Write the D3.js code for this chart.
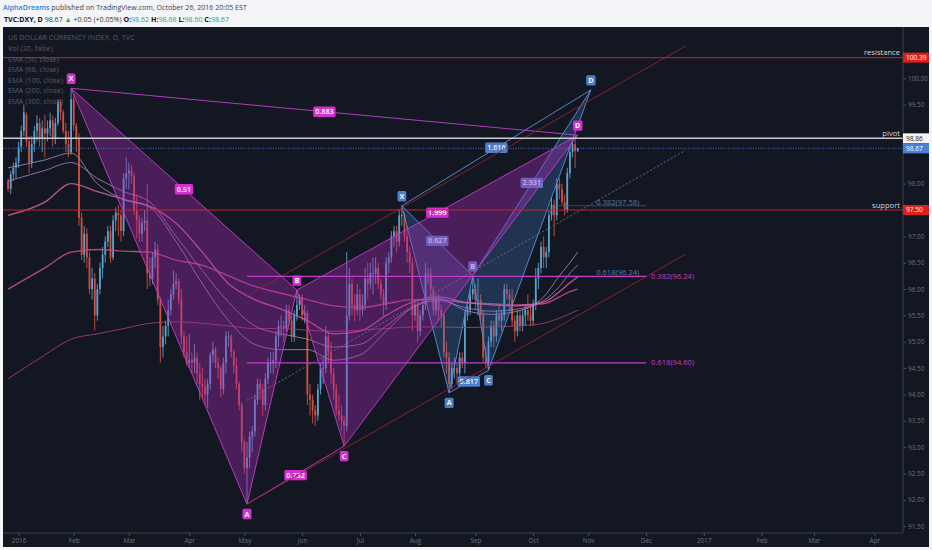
<!DOCTYPE html>
<html><head><meta charset="utf-8">
<script src="https://cdn.jsdelivr.net/npm/d3@7/dist/d3.min.js"></script>
<style>
html,body{margin:0;padding:0;background:#f3f5f8;overflow:hidden;}
svg{display:block;font-family:"Open Sans",sans-serif;}
</style></head><body>
<svg id="c" width="932" height="550"></svg>
<script>
// ---------------- DATA ----------------
const startDate = "2015-12-28";   // first bar, then one bar per weekday
const opens = [
98.05,97.90,98.18,98.30,98.40, 98.70,99.00,99.30,98.80,98.40, 98.75,99.00,99.15,98.85,99.05, 98.95,99.05,99.20,98.85,99.15,
99.55,99.35,99.00,98.75,98.60, 99.60,99.10,98.85,97.35,96.65, 97.05,96.60,96.00,96.20,95.50, 96.00,96.40,96.65,96.90,97.10,
96.60,97.30,97.45,97.40,97.10, 98.10,98.20,98.25,98.15,97.50, 97.30,97.05,97.25,97.30,96.30, 96.20,96.60,96.75,95.80,94.90,
95.10,95.30,95.60,95.90,96.10, 96.15,95.80,95.10,94.80,94.60, 94.65,94.60,94.70,94.40,94.20, 94.15,94.00,94.20,94.75,94.85,
94.60,94.50,94.10,94.60,95.10, 95.10,94.80,94.55,94.20,93.80, 93.10,92.60,92.80,93.20,93.30, 93.90,94.20,94.10,93.80,94.30,
94.60,94.60,94.65,95.10,95.30, 95.30,95.25,95.60,95.40,95.10, 95.50,95.70,95.85,95.50,95.55, 94.00,93.90,93.70,93.60,94.10,
94.50,94.50,95.10,94.80,94.40, 94.10,93.70,93.60,93.50,93.40, 95.50,96.10,95.70,95.60,95.90, 95.60,95.70,96.20,96.10,96.30,
96.30,96.40,96.10,95.90,95.70, 96.50,96.60,97.00,97.10,96.90, 97.40,97.40,97.00,96.70,96.50, 95.50,95.70,95.20,95.50,95.70,
96.30,96.30,96.00,95.60,95.80, 95.60,95.50,94.80,94.70,94.20, 94.50,94.50,94.40,94.70,94.60, 95.50,95.60,95.90,96.00,95.80,
95.80,95.50,94.70,94.60,95.00, 95.30,95.10,95.50,95.40,95.50, 96.00,95.90,95.80,95.40,95.20, 95.50,95.30,95.50,95.60,95.50,
95.40,95.70,96.20,96.40,96.80, 96.60,96.70,97.40,97.60,97.40, 98.00,97.90,97.65,97.50,98.20, 98.60,98.75,98.62];
const highs = [
98.10,98.25,98.40,98.50,98.80, 99.10,99.50,99.35,98.90,98.90, 99.10,99.30,99.25,99.20,99.30, 99.20,99.35,99.30,99.25,99.60,
99.60,99.40,99.15,99.00,99.81, 99.70,99.15,98.95,97.45,97.20, 97.15,96.70,96.40,96.30,96.10, 96.50,96.80,97.00,97.20,97.20,
97.40,97.55,97.60,97.50,98.20, 98.50,98.40,98.35,98.20,97.80, 97.40,97.35,97.50,98.00,96.60, 96.70,96.90,96.85,95.85,95.30,
95.40,95.80,96.00,96.35,96.30, 96.20,96.00,95.20,95.10,95.15, 94.80,94.95,94.80,94.60,94.50, 94.30,94.30,94.80,95.00,94.90,
94.70,94.55,94.70,95.20,95.20, 95.15,94.85,94.70,94.25,93.85, 93.15,93.10,93.30,93.40,94.00, 94.30,94.30,94.20,94.40,94.70,
94.80,94.80,95.20,95.40,95.50, 95.40,95.70,95.70,95.50,95.60, 95.98,95.90,95.90,95.70,95.60, 94.20,94.00,93.80,94.20,94.60,
94.70,95.30,95.20,95.00,94.50, 94.20,94.00,93.80,93.60,96.70, 96.40,96.20,95.90,96.10,96.00, 95.90,96.40,96.50,96.50,96.60,
96.60,96.50,96.20,96.00,96.60, 96.70,97.10,97.20,97.20,97.50, 97.58,97.45,97.20,96.80,96.60, 95.80,95.75,95.60,95.80,96.50,
96.40,96.40,96.05,95.90,95.90, 95.70,95.55,95.00,94.80,94.60, 94.70,94.60,94.80,94.80,95.60, 95.70,96.00,96.25,96.10,96.20,
95.90,95.60,94.90,95.10,95.40, 95.40,95.60,95.70,95.60,96.10, 96.10,96.00,96.00,95.50,95.60, 95.60,95.60,95.70,95.90,95.70,
95.80,96.40,96.50,96.90,97.00, 96.80,97.50,97.75,97.70,98.10, 98.10,98.00,97.80,98.30,98.70, 98.85,98.92,98.68];
const lows = [
97.84,97.80,98.05,98.10,98.30, 98.60,98.90,98.70,98.20,98.30, 98.60,98.80,98.70,98.60,98.50, 98.80,98.90,98.70,98.75,99.10,
99.20,98.95,98.60,98.50,98.55, 99.00,98.60,97.20,96.55,96.50, 96.40,95.90,95.80,95.22,95.40, 95.90,96.20,96.50,96.80,96.50,
96.55,97.10,97.00,96.90,97.00, 97.90,97.90,98.00,97.40,96.95, 96.90,96.90,97.10,96.00,96.05, 96.10,96.40,95.70,94.60,94.70,
94.95,95.10,95.50,95.80,96.00, 95.70,94.95,94.70,94.55,94.50, 94.40,94.40,94.20,93.90,93.95, 93.80,93.75,94.10,94.60,94.50,
94.30,93.95,94.00,94.40,94.90, 94.70,94.40,94.10,93.70,92.90, 92.50,91.92,92.60,92.90,93.20, 93.80,93.90,93.60,93.70,94.20,
94.40,94.40,94.50,94.90,95.10, 95.00,95.20,95.30,95.00,95.00, 95.40,95.60,95.40,95.35,93.80, 93.60,93.45,93.40,93.50,94.00,
94.20,94.40,94.60,94.20,93.90, 93.60,93.50,93.30,93.02,93.30, 95.40,95.50,95.40,95.50,95.40, 95.50,95.60,95.80,96.00,95.90,
96.10,96.00,95.80,95.50,95.60, 96.30,96.50,96.80,96.70,96.80, 97.20,96.90,96.50,96.30,95.20, 95.40,95.00,95.10,95.40,95.60,
96.10,95.80,95.50,95.50,95.40, 95.30,94.70,94.40,94.03,94.10, 94.30,94.20,94.30,94.50,94.40, 95.40,95.50,95.80,95.60,95.50,
95.40,94.60,94.50,94.46,94.90, 94.90,95.00,95.30,95.20,95.40, 95.80,95.60,95.30,95.00,95.10, 95.20,95.20,95.30,95.40,95.30,
95.30,95.60,96.00,96.30,96.40, 96.40,96.60,97.30,97.00,97.30, 97.70,97.60,97.40,97.45,98.10, 98.50,98.30,98.60];
const closes = [
97.90,98.18,98.30,98.40,98.70, 99.00,99.35,98.80,98.40,98.75, 99.00,99.15,98.85,99.05,98.95, 99.05,99.20,98.85,99.15,99.55,
99.35,99.00,98.75,98.60,99.60, 99.10,98.85,97.35,96.65,97.05, 96.60,96.00,96.20,95.50,96.00, 96.40,96.65,96.90,97.10,96.60,
97.30,97.45,97.40,97.10,98.10, 98.20,98.25,98.15,97.50,97.30, 97.05,97.25,97.30,96.30,96.20, 96.60,96.75,95.80,94.90,95.10,
95.30,95.60,95.90,96.10,96.15, 95.80,95.10,94.80,94.60,94.65, 94.60,94.70,94.40,94.20,94.15, 94.00,94.20,94.75,94.85,94.60,
94.50,94.10,94.60,95.10,95.10, 94.80,94.55,94.20,93.80,93.10, 92.60,92.80,93.20,93.30,93.90, 94.20,94.10,93.80,94.30,94.60,
94.60,94.65,95.10,95.30,95.30, 95.25,95.60,95.40,95.10,95.50, 95.70,95.85,95.50,95.55,94.00, 93.90,93.70,93.60,94.10,94.50,
94.50,95.10,94.80,94.40,94.10, 93.70,93.60,93.50,93.40,95.50, 96.10,95.70,95.60,95.90,95.60, 95.70,96.20,96.10,96.30,96.30,
96.40,96.10,95.90,95.70,96.50, 96.60,97.00,97.10,96.90,97.40, 97.40,97.00,96.70,96.50,95.50, 95.70,95.20,95.50,95.70,96.30,
96.30,96.00,95.60,95.80,95.60, 95.50,94.80,94.70,94.20,94.50, 94.50,94.40,94.70,94.60,95.50, 95.60,95.90,96.00,95.80,95.80,
95.50,94.70,94.60,95.00,95.30, 95.10,95.50,95.40,95.50,96.00, 95.90,95.80,95.40,95.20,95.50, 95.30,95.50,95.60,95.50,95.40,
95.70,96.20,96.40,96.80,96.60, 96.70,97.40,97.60,97.40,98.00, 97.90,97.65,97.50,98.20,98.60, 98.75,98.62,98.67];

// EMA readings (sampled at these bar numbers, counted from startDate)
const emaBars = [0,14,24,34,44,54,64,74,84,94,104,114,124,134,144,154,164,174,184,194,204,210,214,217];
const ema50  = [98.30,98.45,98.58,98.00,97.70,97.55,96.90,96.10,95.40,94.95,94.85,94.85,94.65,94.75,95.20,95.65,95.82,95.60,95.52,95.58,95.85,96.25,96.50,96.70];
const ema68  = [98.05,98.25,98.40,98.10,97.85,97.65,97.00,96.35,95.75,95.30,95.15,95.05,94.90,94.95,95.30,95.65,95.78,95.65,95.58,95.62,95.78,96.05,96.30,96.46];
const ema100 = [97.40,97.65,98.00,97.85,97.70,97.57,97.25,96.70,96.10,95.80,95.62,95.40,95.15,95.20,95.50,95.75,95.85,95.75,95.70,95.68,95.75,95.95,96.12,96.23];
const ema200 = [96.00,96.40,96.70,96.75,96.72,96.70,96.55,96.45,96.25,96.05,95.92,95.80,95.68,95.65,95.72,95.80,95.80,95.74,95.72,95.70,95.72,95.85,95.95,96.00];
const ema300 = [94.30,94.75,95.05,95.15,95.25,95.35,95.38,95.35,95.30,95.25,95.25,95.22,95.20,95.22,95.25,95.28,95.28,95.27,95.28,95.30,95.35,95.45,95.53,95.60];
const legendLines = ["US DOLLAR CURRENCY INDEX, D, TVC","Vol (20, false)","EMA (50, close)","EMA (68, close)","EMA (100, close)","EMA (200, close)","EMA (300, close)"];

// Harmonic patterns (X, A, B, C, D)
const pinkDates  = ["2016-01-29","2016-05-03","2016-05-30","2016-06-23","2016-10-26"];
const pinkPrices = [99.81, 91.92, 95.98, 93.02, 98.92];
const pinkRatios = ["0.51","0.732","1.999","0.883"];   // XB, AC, BD, XD
const blueDates  = ["2016-07-25","2016-08-18","2016-08-31","2016-09-08","2016-11-02"];
const bluePrices = [97.58, 94.03, 96.25, 94.46, 99.78];
const blueRatios = ["0.627","0.817","2.931","1.616"];
const pointNames = ["X","A","B","C","D"];

// Channel (start / end)
const channelDates = ["2016-05-03","2016-12-22"];
const channelLower = [91.92, 96.66];
const channelMid   = [93.89, 98.63];
const channelUpper = [95.87, 100.61];

// Fibonacci levels
const pinkFibDates = ["2016-05-03","2016-12-01"];
const pinkFibPrices = [96.24, 94.60];
const pinkFibNames = ["0.382(96.24)","0.618(94.60)"];
const blueFibDates = ["2016-10-13","2016-12-01"];
const blueFibPrices = [97.58, 96.24];
const blueFibNames = ["0.382(97.58)","0.618(96.24)"];
const blueFibLabelDate = "2016-11-04";

// Horizontal levels
const levelNames  = ["resistance","pivot","support"];
const levelPrices = [100.39, 98.86, 97.50];
const lastPrice = 98.67;

// Axis ticks
const priceTicks = [100.5,100,99.5,99,98.5,98,97.5,97,96.5,96,95.5,95,94.5,94,93.5,93,92.5,92,91.5];
const timeTickDates  = ["2016-01-01","2016-02-01","2016-03-01","2016-04-01","2016-05-02","2016-06-01","2016-07-01","2016-08-01","2016-09-01","2016-10-03","2016-11-01","2016-12-01","2017-01-02","2017-02-01","2017-03-01","2017-04-03"];
const timeTickLabels = ["2016","Feb","Mar","Apr","May","Jun","Jul","Aug","Sep","Oct","Nov","Dec","2017","Feb","Mar","Apr"];

// ---------------- HELPERS ----------------
const DAY = 864e5, BASE = Date.UTC(2016,0,1);
function wd(s){ // weekday index relative to 2016-01-01
  const t = new Date(s+"T00:00:00Z").getTime(); let n = 0;
  if (t >= BASE){ for(let d=BASE; d<t; d+=DAY){ const g=new Date(d+DAY).getUTCDay(); if(g!==0&&g!==6) n++; } }
  else { for(let d=BASE; d>t; d-=DAY){ const g=new Date(d).getUTCDay(); if(g!==0&&g!==6) n--; } }
  return n;
}
const i0 = wd(startDate);

const svg = d3.select("#c");
const PL = {x0:3, x1:903, y0:27, y1:533};
const x = d3.scaleLinear().domain([0,326]).range([18.6, 874.4]);
const y = d3.scaleLinear().domain([91.5,100.5]).range([526.2, 51.9]);
const X = s => x(wd(s));

// ---------------- FRAME ----------------
svg.append("rect").attr("x",0).attr("y",0).attr("width",932).attr("height",550).attr("fill","#f3f5f8");
svg.append("rect").attr("x",3).attr("y",27).attr("width",926).attr("height",520).attr("fill","#131722");

// header
const h1 = svg.append("text").attr("x",3).attr("y",10).attr("font-size",7.1);
h1.append("tspan").attr("fill","#2b7fd6").attr("font-weight",600).text("AlphaDreams");
h1.append("tspan").attr("fill","#3b3f47").text(" published on TradingView.com, October 26, 2016 20:05 EST");
const h2 = svg.append("text").attr("x",4).attr("y",21.5).attr("font-size",7.1);
const G = "#3aa64a";
[["TVC:DXY, D","#111",700],[" 98.67 ","#333",400],["▲",G,400],[" +0.05 (+0.05%) ","#333",400],
 ["O:","#111",700],["98.62 ",G,400],["H:","#111",700],["98.68 ",G,400],["L:","#111",700],["98.60 ",G,400],["C:","#111",700],["98.67",G,400]]
 .forEach(t=>h2.append("tspan").attr("fill",t[1]).attr("font-weight",t[2]).text(t[0]));

svg.append("defs").append("clipPath").attr("id","clip").append("rect")
  .attr("x",PL.x0).attr("y",PL.y0).attr("width",PL.x1-PL.x0).attr("height",PL.y1-PL.y0);
const plot = svg.append("g").attr("clip-path","url(#clip)");

// legend
svg.append("g").selectAll("text").data(legendLines).join("text")
  .attr("x",8).attr("y",(d,i)=>40.3+i*10.6).attr("font-size",7.3).attr("fill","#525a6a").text(d=>d);

// ---------------- CANDLES ----------------
const bars = closes.map((c,k)=>({i:i0+k,o:opens[k],h:highs[k],l:lows[k],c:c}));
const UP="#5aa2cc", DN="#d24f3f";
const cg = plot.append("g");
cg.selectAll("line").data(bars).join("line")
  .attr("x1",d=>x(d.i)).attr("x2",d=>x(d.i)).attr("y1",d=>y(d.h)).attr("y2",d=>y(d.l))
  .attr("stroke",d=>d.c>=d.o?UP:DN).attr("stroke-width",0.9);
cg.selectAll("rect").data(bars).join("rect")
  .attr("x",d=>x(d.i)-0.9).attr("width",1.8)
  .attr("y",d=>y(Math.max(d.o,d.c))).attr("height",d=>Math.max(0.8,Math.abs(y(d.o)-y(d.c))))
  .attr("fill",d=>d.c>=d.o?UP:DN);

// ---------------- EMAs ----------------
const emaSets = [[ema300,"#a33a72",1],[ema200,"#c24a8c",1.4],[ema100,"#d35a9f",1.3],[ema68,"#b67cc0",0.9],[ema50,"#a68ccc",0.9]];
const eline = d3.line().x((d,j)=>x(i0+emaBars[j])).y(d=>y(d)).curve(d3.curveMonotoneX);
emaSets.forEach(s=>plot.append("path").attr("d",eline(s[0])).attr("fill","none").attr("stroke",s[1]).attr("stroke-width",s[2]).attr("opacity",0.9));

// ---------------- PATTERNS ----------------
function label(g, cx, cy, txt, bg, bold){
  const t = g.append("text").attr("x",cx).attr("y",cy+2.6).attr("text-anchor","middle")
    .attr("font-size",7.2).attr("font-weight",bold?700:600).attr("fill","#fff").text(txt);
  const w = t.node().getComputedTextLength()+4;
  g.insert("rect","text:last-child").attr("x",cx-w/2).attr("y",cy-5.2).attr("width",w).attr("height",10.4)
    .attr("rx",1.5).attr("fill",bg);
}
function pattern(dates, prices, ratios, stroke, fill, lblBg, lblOpacity){
  const g = plot.append("g");
  const P = dates.map((d,k)=>[X(d), y(prices[k])]);
  const tri = (a,b,c)=>"M"+P[a]+"L"+P[b]+"L"+P[c]+"Z";
  g.append("path").attr("d",tri(0,1,2)).attr("fill",fill).attr("stroke",stroke).attr("stroke-width",0.9);
  g.append("path").attr("d",tri(2,3,4)).attr("fill",fill).attr("stroke",stroke).attr("stroke-width",0.9);
  [[1,3],[0,4]].forEach(p=>g.append("line").attr("x1",P[p[0]][0]).attr("y1",P[p[0]][1]).attr("x2",P[p[1]][0]).attr("y2",P[p[1]][1])
      .attr("stroke",stroke).attr("stroke-width",0.9));
  const lg = g.append("g").attr("opacity",lblOpacity);
  [[0,2],[1,3],[2,4],[0,4]].forEach((p,k)=>{
    label(lg,(P[p[0]][0]+P[p[1]][0])/2,(P[p[0]][1]+P[p[1]][1])/2,ratios[k],lblBg,false);
  });
  pointNames.forEach((n,k)=>{
    const up = (k%2===0);
    label(lg,P[k][0],P[k][1]+(up?-9.5:10),n,lblBg,true);
  });
}
pattern(blueDates, bluePrices, blueRatios, "#5b8fd8", "rgba(70,125,205,0.28)", "#4f86d2", 0.95);
pattern(pinkDates, pinkPrices, pinkRatios, "#c43fc8", "rgba(165,42,178,0.38)", "#d52fd2", 1);

// ---------------- CHANNEL ----------------
const cx0 = X(channelDates[0]), cx1 = X(channelDates[1]);
[[channelLower,"#8e2236",null],[channelUpper,"#8e2236",null],[channelMid,"#6f7482","2,2"]].forEach(c=>{
  plot.append("line").attr("x1",cx0).attr("x2",cx1).attr("y1",y(c[0][0])).attr("y2",y(c[0][1]))
    .attr("stroke",c[1]).attr("stroke-width",0.9).attr("stroke-dasharray",c[2]);
});

// ---------------- FIBS ----------------
pinkFibPrices.forEach((p,k)=>{
  plot.append("line").attr("x1",X(pinkFibDates[0])).attr("x2",X(pinkFibDates[1])).attr("y1",y(p)).attr("y2",y(p))
    .attr("stroke","#c23ccc").attr("stroke-width",1.2);
  plot.append("text").attr("x",X(pinkFibDates[1])+5).attr("y",y(p)+2.5).attr("font-size",7.6)
    .attr("fill","#bf3fc4").text(pinkFibNames[k]);
});
blueFibPrices.forEach((p,k)=>{
  if(k===0) plot.append("line").attr("x1",X(blueFibDates[0])).attr("x2",X(blueFibDates[1])).attr("y1",y(p)).attr("y2",y(p))
    .attr("stroke","#4a5f86").attr("stroke-width",0.7);
  plot.append("text").attr("x",X(blueFibLabelDate)).attr("y",y(p)-1).attr("font-size",7.6)
    .attr("fill","#5878ad").text(blueFibNames[k]);
});

// ---------------- HORIZONTAL LEVELS ----------------
const lvlColor = ["#c8242c","#c9ccd2","#c8242c"];
levelPrices.forEach((p,k)=>{
  plot.append("line").attr("x1",PL.x0).attr("x2",PL.x1).attr("y1",y(p)).attr("y2",y(p))
    .attr("stroke",lvlColor[k]).attr("stroke-width",k===1?1.5:1);
  svg.append("text").attr("x",900).attr("y",y(p)-2.5).attr("text-anchor","end").attr("font-size",7.6)
    .attr("fill","#d6d8dc").text(levelNames[k]);
});
plot.append("line").attr("x1",PL.x0).attr("x2",PL.x1).attr("y1",y(lastPrice)).attr("y2",y(lastPrice))
  .attr("stroke","#3f6fc4").attr("stroke-width",1).attr("stroke-dasharray","1,1.5");

// ---------------- AXES ----------------
const boxPrices = [levelPrices[0], levelPrices[1], lastPrice, levelPrices[2]];
const freeTicks = priceTicks.filter(t=>boxPrices.every(b=>Math.abs(y(t)-y(b))>9));
const ya = svg.append("g").attr("transform","translate(903,0)")
  .call(d3.axisRight(y).tickValues(freeTicks).tickSize(3).tickPadding(2).tickFormat(d3.format(".2f")));
ya.select(".domain").remove();
ya.selectAll("line").attr("stroke","#4a5060");
ya.selectAll("text").attr("fill","#6b7180").attr("font-size",6.4).attr("font-family","Open Sans");
svg.append("line").attr("x1",903).attr("x2",903).attr("y1",27).attr("y2",533).attr("stroke","#3a404e").attr("stroke-width",1);

const xa = svg.append("g").attr("transform","translate(0,533)")
  .call(d3.axisBottom(x).tickValues(timeTickDates.map(wd)).tickSize(3).tickPadding(2).tickFormat((d,i)=>timeTickLabels[i]));
xa.select(".domain").remove();
xa.selectAll("line").attr("stroke","#4a5060");
xa.selectAll("text").attr("fill","#6b7180").attr("font-size",6.4).attr("font-family","Open Sans");
svg.append("line").attr("x1",3).attr("x2",903).attr("y1",533).attr("y2",533).attr("stroke","#3a404e").attr("stroke-width",1);

// price boxes
const boxes = [[levelPrices[0],"#e01e1e","#fff"],[levelPrices[1],"#f4f4f4","#222"],[lastPrice,"#4a80d6","#fff"],[levelPrices[2],"#e01e1e","#fff"]];
boxes.forEach(b=>{
  svg.append("rect").attr("x",903).attr("y",y(b[0])-5).attr("width",26).attr("height",10).attr("fill",b[1]);
  svg.append("text").attr("x",906).attr("y",y(b[0])+2.4).attr("font-size",6.6).attr("fill",b[2]).text(b[0].toFixed(2));
});
</script>
</body></html>
